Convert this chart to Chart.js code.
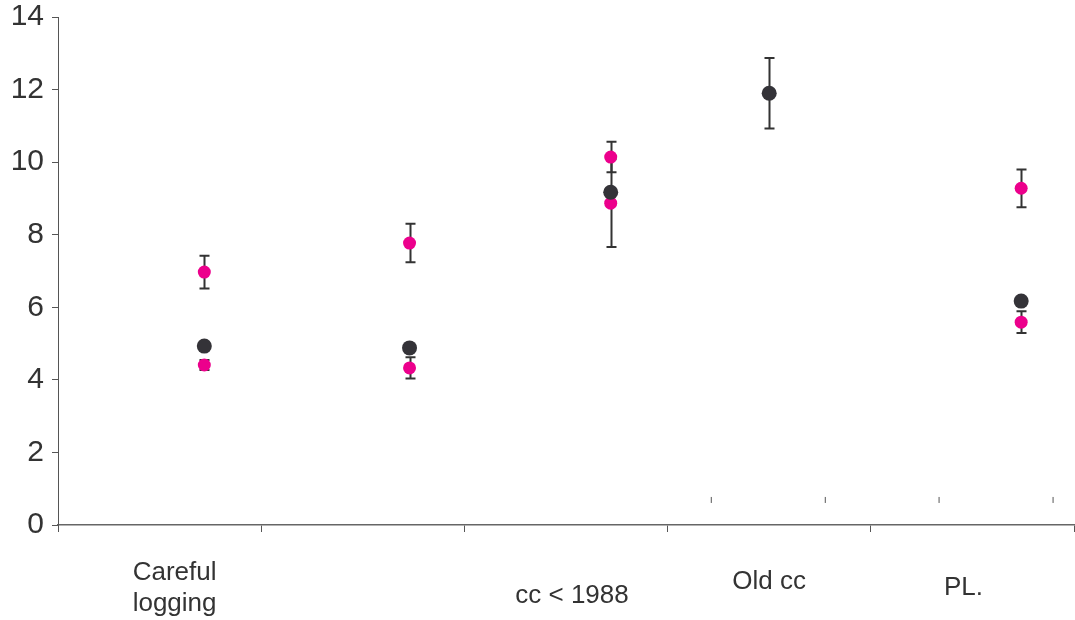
<!DOCTYPE html>
<html>
<head>
<meta charset="utf-8">
<script src="https://cdn.jsdelivr.net/npm/chart.js@4.4.2/dist/chart.umd.min.js"></script>
<style>
  html, body { margin: 0; padding: 0; background: #fff; }
  #wrap { width: 1075px; height: 620px; }
</style>
</head>
<body>
<div id="wrap"><canvas id="chart"></canvas></div>
<script>
const categories = ['Careful logging', '', 'cc < 1988', 'Old cc', 'PL.'];
const pointX = [0.72, 1.73, 2.72, 3.5, 4.74];

const darkValues = [4.93, 4.88, 9.17, 11.9, 6.17];
const darkErrors = [null, null, null, 0.97, null];

const pinkHighValues = [6.97, 7.77, 10.14, null, 9.28];
const pinkHighErrors = [0.45, 0.53, 0.42, null, 0.52];

const pinkLowValues = [4.41, 4.33, 8.87, null, 5.59];
const pinkLowErrors = [0.14, 0.29, 1.21, null, 0.30];

// stray tick marks visible just above the axis on the right side
const strayTickX = [3.215, 3.776, 4.336, 4.897];
const strayTickY = 0.69;

const yTicks = [0, 2, 4, 6, 8, 10, 12, 14];

const DARK = '#343338';
const PINK = '#ec008c';
const INK = '#333333';

const toPoints = (values, errors) =>
  values.map((v, i) => v === null ? null : { x: pointX[i], y: v, err: errors[i] })
    .filter(p => p !== null);

// label placement (offset from category centre, in px / baseline y)
const labelLayout = [
  { dx: 15, y: 573 },
  { dx: 0, y: 573 },
  { dx: 6, y: 596 },
  { dx: 0, y: 582 },
  { dx: -9, y: 588 }
];

const errorBars = {
  id: 'errorBars',
  beforeDatasetsDraw(chart) {
    const { ctx, scales: { x, y } } = chart;
    ctx.save();
    ctx.strokeStyle = INK;
    ctx.lineWidth = 2;
    chart.data.datasets.forEach(ds => {
      if (!ds.hasErrors) return;
      ds.data.forEach(p => {
        if (p.err === null || p.err === undefined) return;
        const px = Math.round(x.getPixelForValue(p.x)) + 0.5;
        const top = y.getPixelForValue(p.y + p.err);
        const bottom = y.getPixelForValue(p.y - p.err);
        ctx.beginPath();
        ctx.moveTo(px, top);
        ctx.lineTo(px, bottom);
        ctx.moveTo(px - 5, top);
        ctx.lineTo(px + 5, top);
        ctx.moveTo(px - 5, bottom);
        ctx.lineTo(px + 5, bottom);
        ctx.stroke();
      });
    });
    ctx.restore();
  }
};

const categoryLabels = {
  id: 'categoryLabels',
  afterDraw(chart) {
    const { ctx, scales: { x } } = chart;
    ctx.save();
    ctx.fillStyle = INK;
    ctx.font = '26px "Liberation Sans", Arial, sans-serif';
    ctx.textAlign = 'center';
    ctx.textBaseline = 'middle';
    categories.forEach((label, i) => {
      if (!label) return;
      const cx = x.getPixelForValue(i + 0.5) + labelLayout[i].dx;
      const lines = label === 'Careful logging' ? ['Careful', 'logging'] : [label];
      lines.forEach((line, j) => {
        ctx.fillText(line, cx, labelLayout[i].y + j * 31);
      });
    });
    ctx.restore();
  }
};

new Chart(document.getElementById('chart'), {
  type: 'scatter',
  data: {
    datasets: [
      {
        label: 'stray',
        data: strayTickX.map(v => ({ x: v, y: strayTickY })),
        pointStyle: 'line',
        rotation: 90,
        radius: 3,
        borderWidth: 1,
        borderColor: '#555',
        backgroundColor: '#555'
      },
      {
        label: 'dark',
        data: toPoints(darkValues, darkErrors),
        hasErrors: true,
        radius: 7.5,
        borderWidth: 0,
        backgroundColor: DARK
      },
      {
        label: 'pink high',
        data: toPoints(pinkHighValues, pinkHighErrors),
        hasErrors: true,
        radius: 6.5,
        borderWidth: 0,
        backgroundColor: PINK
      },
      {
        label: 'pink low',
        data: toPoints(pinkLowValues, pinkLowErrors),
        hasErrors: true,
        radius: 6.5,
        borderWidth: 0,
        backgroundColor: PINK
      }
    ]
  },
  options: {
    responsive: true,
    maintainAspectRatio: false,
    animation: false,
    layout: { autoPadding: false, padding: { top: 17, right: 1, left: 0, bottom: 0 } },
    plugins: {
      legend: { display: false },
      tooltip: { enabled: false }
    },
    scales: {
      x: {
        type: 'linear',
        min: 0,
        max: 5,
        afterBuildTicks: axis => {
          axis.ticks = categories.map((c, i) => ({ value: i })).concat([{ value: 5 }]);
        },
        afterFit: axis => {
          axis.height = 95;
          axis.paddingLeft = 0;
          axis.paddingRight = 0;
        },
        grid: { drawOnChartArea: false, tickLength: 7, color: '#555' },
        border: { color: '#666', width: 1.5 },
        ticks: { display: false }
      },
      y: {
        min: 0,
        max: 14,
        afterBuildTicks: axis => {
          axis.ticks = yTicks.map(v => ({ value: v }));
        },
        afterFit: axis => {
          axis.width = 58;
          axis.paddingTop = 0;
          axis.paddingBottom = 0;
        },
        grid: { drawOnChartArea: false, tickLength: 6, color: '#555' },
        border: { color: '#555', width: 1 },
        ticks: {
          color: INK,
          padding: 8,
          font: { family: '"Liberation Sans", Arial, sans-serif', size: 30 }
        }
      }
    }
  },
  plugins: [errorBars, categoryLabels]
});
</script>
</body>
</html>
